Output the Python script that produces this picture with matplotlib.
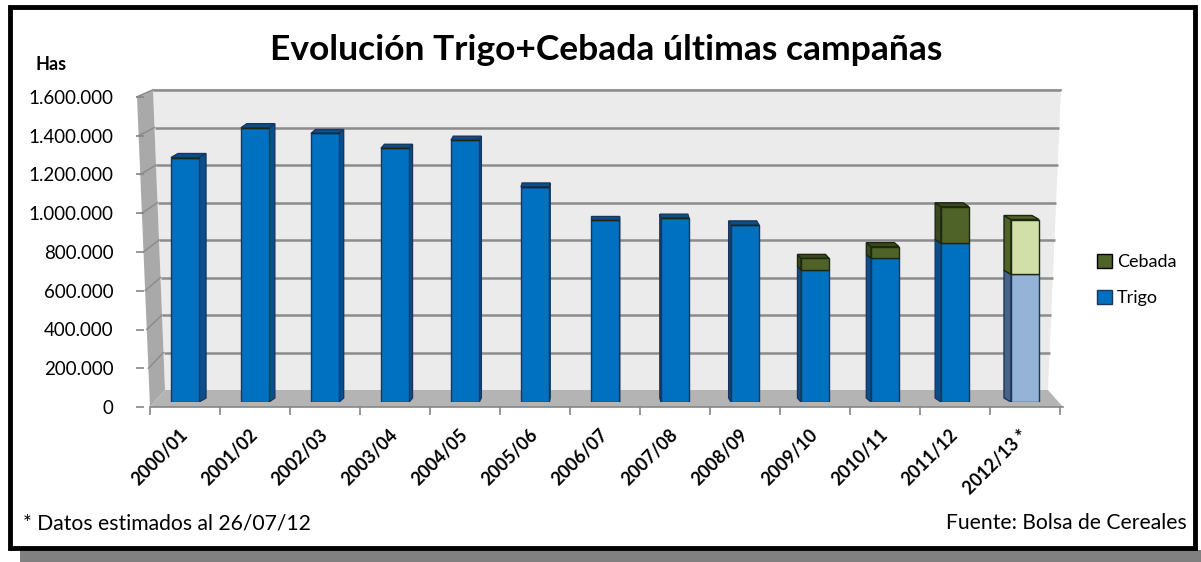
import matplotlib
matplotlib.use("Agg")
import matplotlib.pyplot as plt
from matplotlib.patches import Polygon, Rectangle, Patch
import matplotlib.transforms as mtransforms
import numpy as np

# ---------------- data ----------------
campaigns = ["2000/01", "2001/02", "2002/03", "2003/04", "2004/05", "2005/06",
             "2006/07", "2007/08", "2008/09", "2009/10", "2010/11", "2011/12",
             "2012/13 *"]
trigo = [1270000, 1425000, 1395000, 1318000, 1360000, 1117000,
         945000, 955000, 920000, 686000, 746000, 824000, 663000]
cebada = [0, 0, 0, 0, 0, 0, 0, 0, 0, 60000, 61000, 190000, 285000]
y_ticks = [0, 200000, 400000, 600000, 800000, 1000000, 1200000, 1400000, 1600000]
title = "Evolución Trigo+Cebada últimas campañas"
y_unit = "Has"
note_left = "* Datos estimados al 26/07/12"
note_right = "Fuente: Bolsa de Cereales"

FONT = "Lato"
W, H = 1201, 562
fig = plt.figure(figsize=(W / 100, H / 100), dpi=100)
fig.patch.set_facecolor("white")

def fx(px):
    return px / W

def fy(py):
    return 1 - py / H

# ---------- background (frame, walls) in pixel coordinates ----------
bg = fig.add_axes([0, 0, 1, 1])
bg.set_xlim(0, W)
bg.set_ylim(H, 0)
bg.axis("off")

# shadow + frame
bg.add_patch(Rectangle((20, 550), W - 20, 12, facecolor="#808080", edgecolor="none"))
bg.add_patch(Rectangle((10, 7), 1185, 541, facecolor="white", edgecolor="black", lw=3.5))

# walls
back = [(165, 390), (1048, 390), (1061, 90), (153, 90)]
side = [(150, 407), (165, 390), (153, 90), (137, 97)]
floor = [(150, 407), (1063, 407), (1048, 390), (165, 390)]
bg.add_patch(Polygon(back, closed=True, facecolor="#ebebeb", edgecolor="none"))
bg.add_patch(Polygon(side, closed=True, facecolor="#a9a9a9", edgecolor="none"))
bg.add_patch(Polygon(floor, closed=True, facecolor="#b4b4b4", edgecolor="none"))
bg.plot([153, 1061], [90, 90], color="#bdbdbd", lw=1.5)
bg.plot([137, 153], [97, 90], color="#bdbdbd", lw=1.5)

vmax = y_ticks[-1]
for v in y_ticks[1:]:
    t = v / vmax
    yb = 390 - t * 300
    xl = 165 + (153 - 165) * t
    xr = 1048 + (1061 - 1048) * t
    yf = 407 - t * 310
    xf = 150 + (137 - 150) * t
    bg.plot([xl, xr], [yb, yb], color="#8c8c8c", lw=1.8, solid_capstyle="butt")
    bg.plot([xf, xl], [yf, yb], color="#8a8a8a", lw=1.0)

# ---------- bars axes ----------
n = len(campaigns)
ax = fig.add_axes([fx(150), fy(402), fx(1060) - fx(150), fy(94) - fy(402)])
ax.set_xlim(-0.5, n - 0.5)
ax.set_ylim(0, vmax)
ax.axis("off")
ax.patch.set_alpha(0)

x = np.arange(n)
bw = 0.4
px_per_unit = 910 / n
val_per_px = vmax / 308
dy = 4 * val_per_px

trigo_front = ["#0070c0"] * (n - 1) + ["#95b3d7"]
trigo_side = ["#0a4f8c"] * (n - 1) + ["#4a6384"]
cebada_front = ["#4f6228"] * (n - 1) + ["#d0e0a8"]
cebada_side = ["#3b4a1e"] * (n - 1) + ["#4f6228"]
edge_t = "#17375e"
edge_c = "#1e2610"

for i in range(n):
    dx = 7 * (6 - i) / 6 / px_per_unit
    xc = x[i]
    edge_x = xc + bw / 2 if dx >= 0 else xc - bw / 2
    segs = [(0, trigo[i], trigo_side[i], edge_t)]
    if cebada[i] > 0:
        segs.append((trigo[i], trigo[i] + cebada[i], cebada_side[i], edge_c))
    for (b, t, col, ec) in segs:
        ax.fill([edge_x, edge_x + dx, edge_x + dx, edge_x],
                [b, b + dy, t + dy, t], color=col, ec=ec, lw=1, zorder=2)
    top = trigo[i] + cebada[i]
    topcol = cebada_side[i] if cebada[i] > 0 else trigo_side[i]
    topec = edge_c if cebada[i] > 0 else edge_t
    ax.fill([xc - bw / 2, xc + bw / 2, xc + bw / 2 + dx, xc - bw / 2 + dx],
            [top, top, top + dy, top + dy], color=topcol, ec=topec, lw=1, zorder=2)

ax.bar(x, trigo, width=bw, color=trigo_front, edgecolor=edge_t, lw=1, zorder=3)
ax.bar(x, cebada, bottom=trigo, width=bw, color=cebada_front, edgecolor=edge_c,
       lw=1, zorder=3)

# ---------- front value axis ----------
yax = fig.add_axes([fx(144), fy(407), 0.001, fy(97) - fy(407)])
yax.set_ylim(0, vmax)
yax.patch.set_alpha(0)
for s in yax.spines.values():
    s.set_visible(False)
yax.set_xticks([])
yax.set_yticks(y_ticks)
yax.set_yticklabels([f"{v:,}".replace(",", ".") for v in y_ticks],
                    fontsize=13.5, family=FONT)
yax.tick_params(axis="y", length=6, width=1.2, color="#868686", pad=16)

# ---------- category axis ----------
xax = fig.add_axes([fx(150), fy(407), fx(1063) - fx(150), 0.001])
xax.set_xlim(-0.5, n - 0.5 + 3 / px_per_unit)
xax.patch.set_alpha(0)
for k, s in xax.spines.items():
    s.set_visible(k == "bottom")
xax.spines["bottom"].set_color("#868686")
xax.spines["bottom"].set_linewidth(1.2)
xax.set_yticks([])
xax.set_xticks(x)
xax.set_xticklabels(campaigns, rotation=45, ha="right", rotation_mode="anchor",
                    fontsize=13, fontweight="bold", family=FONT)
xax.set_xticks(np.arange(n + 1) - 0.5, minor=True)
xax.tick_params(axis="x", which="major", length=0, pad=14)
xax.tick_params(axis="x", which="minor", length=6, width=1.2, color="#868686")
shift = mtransforms.ScaledTranslation(-4.5 / 72, 0, fig.dpi_scale_trans)
for lab in xax.get_xticklabels():
    lab.set_transform(lab.get_transform() + shift)

# ---------- texts ----------
fig.text(fx(606), fy(50), title, ha="center", va="center", fontsize=25.5,
         fontweight="bold", family=FONT)
fig.text(fx(51), fy(65), y_unit, ha="center", va="center", fontsize=13,
         fontweight="bold", family=FONT)
fig.text(fx(23), fy(523), note_left, ha="left", va="center", fontsize=15.2, family=FONT)
fig.text(fx(1187), fy(523), note_right, ha="right", va="center", fontsize=15.2, family=FONT)

handles = [Patch(facecolor=cebada_front[0], edgecolor="black", label="Cebada"),
           Patch(facecolor=trigo_front[0], edgecolor=edge_t, label="Trigo")]
fig.legend(handles=handles, loc="center left", bbox_to_anchor=(fx(1081), fy(280)),
           frameon=False, prop={"family": FONT, "size": 13}, handlelength=0.8,
           handleheight=0.8, handletextpad=0.3, labelspacing=1.1)

fig.savefig("out.png", dpi=100)
